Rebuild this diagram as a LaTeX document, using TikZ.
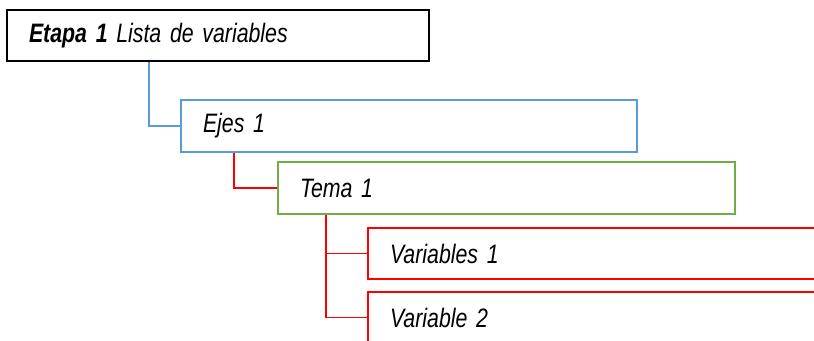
\documentclass[tikz,border=0pt]{standalone}
\usepackage{fontspec}
\setmainfont{Liberation Sans}[FakeStretch=0.8]
\usetikzlibrary{calc}

\definecolor{ejesblue}{RGB}{91,155,213}
\definecolor{temagreen}{RGB}{112,173,71}
\definecolor{varred}{RGB}{255,0,0}

\tikzset{every picture/.style={line width=0.75pt}}
\tikzset{
  listbox/.style={draw, line width=1.7pt, fill=white, inner xsep=16.5pt,
    minimum height=38.5pt, text width=#1, align=left,
    font=\fontsize{20}{24}\selectfont\itshape,
    execute at begin node={\spaceskip=6.5pt\relax}},
  link/.style={line width=1pt}
}

\begin{document}
\begin{tikzpicture}[x=0.75pt,y=0.75pt,yscale=-1,xscale=1]
\useasboundingbox (0,0) rectangle (814,341);
\clip (0,0) rectangle (814,341);

% Boxes
\node[listbox=283.5pt, draw=black] (etapa) at (218,35.5) {\textbf{Etapa 1} Lista de variables};
\node[listbox=309pt, draw=ejesblue] (ejes) at (409,126) {Ejes 1};
\node[listbox=309.75pt, draw=temagreen] (tema) at (506.5,188) {Tema 1};
\node[listbox=319.5pt, draw=varred] (var1) at (603,253.5) {Variables 1};
\node[listbox=319.5pt, draw=varred] (var2) at (603,317.5) {Variable 2};

% Connectors
\draw[link, draw=ejesblue] ($(etapa.south west)+(143,0)$) |- (ejes.west);
\draw[link, draw=varred] ($(ejes.south west)+(54,0)$) |- (tema.west);
\draw[link, draw=varred] ($(tema.south west)+(49,0)$) |- (var1.west);
\draw[link, draw=varred] ($(tema.south west)+(49,0)$) |- (var2.west);

\end{tikzpicture}
\end{document}
